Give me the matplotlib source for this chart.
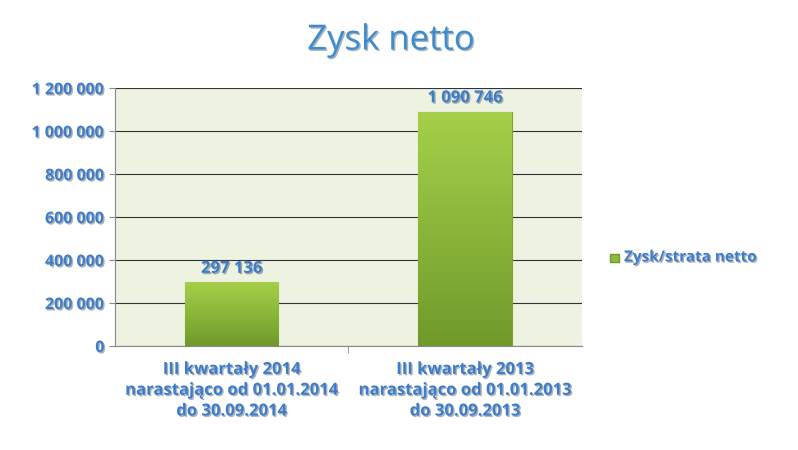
import numpy as np
import matplotlib.pyplot as plt
import matplotlib.patheffects as pe

categories = ["III kwartały 2014\nnarastająco od 01.01.2014\ndo 30.09.2014",
              "III kwartały 2013\nnarastająco od 01.01.2013\ndo 30.09.2013"]
values = [297136, 1090746]
value_labels = ["297 136", "1 090 746"]
yticks = [0, 200000, 400000, 600000, 800000, 1000000, 1200000]
ytick_labels = ["0", "200 000", "400 000", "600 000", "800 000", "1 000 000", "1 200 000"]
series_name = "Zysk/strata netto"

blue = "#3D7CC9"
shadow = [pe.withSimplePatchShadow(offset=(1, -1), alpha=0.35)]
plt.rcParams["font.family"] = ["Open Sans", "DejaVu Sans"]

fig = plt.figure(figsize=(7.98, 4.5), dpi=100)
ax = fig.add_axes([0.144, 0.231, 0.585, 0.573])
ax.set_facecolor("#EEF2E1")

x = np.arange(len(values))
bars = ax.bar(x, values, width=0.4, color="#8DBA3A", edgecolor="#7AA534", linewidth=0.8, zorder=3)
# simple gradient overlay on bars
grad = np.linspace(0, 1, 256).reshape(-1, 1)
cmap = plt.matplotlib.colors.LinearSegmentedColormap.from_list("g", ["#6F9A2B", "#A6D04A"])
for b in bars:
    bx, by = b.get_x(), b.get_y()
    im = ax.imshow(grad, cmap=cmap, aspect="auto",
                   extent=[bx, bx + b.get_width(), by, by + b.get_height()], zorder=3.5, origin="lower")
    im.set_clip_path(b)

for xi, v, lab in zip(x, values, value_labels):
    ax.text(xi, v + 25000, lab, ha="center", va="bottom", color=blue,
            fontsize=12, fontweight="bold", path_effects=shadow, zorder=5)

ax.set_xlim(-0.5, 1.5)
ax.set_ylim(0, 1200000)
ax.set_yticks(yticks)
ax.set_yticklabels(ytick_labels, color=blue, fontsize=11.5, fontweight="bold")
for t in ax.get_yticklabels():
    t.set_path_effects(shadow)
ax.set_xticks(x)
ax.set_xticklabels(categories, color=blue, fontsize=12, fontweight="bold", linespacing=1.2)
for t in ax.get_xticklabels():
    t.set_path_effects(shadow)
ax.grid(axis="y", color="#333333", linewidth=0.8, zorder=1)
ax.set_xticks([0.5], minor=True)
ax.tick_params(axis="x", which="minor", length=5, color="#888888")
ax.tick_params(axis="x", which="major", length=0, pad=10)
ax.tick_params(axis="y", length=4, color="#888888")
for s in ["top", "right"]:
    ax.spines[s].set_visible(False)
ax.spines["left"].set_color("#888888")
ax.spines["bottom"].set_color("#888888")

fig.text(0.49, 0.91, "Zysk netto", ha="center", va="center", color="#3E8CD0",
         fontsize=25, path_effects=shadow)

fig.patches.append(plt.Rectangle((0.765, 0.418), 0.011, 0.018, transform=fig.transFigure,
                                 facecolor="#8DBA3A", edgecolor="#6F9A2B"))
fig.text(0.782, 0.428, series_name, ha="left", va="center", color=blue,
         fontsize=11, fontweight="bold", path_effects=shadow)

fig.savefig("out.png", dpi=100)
